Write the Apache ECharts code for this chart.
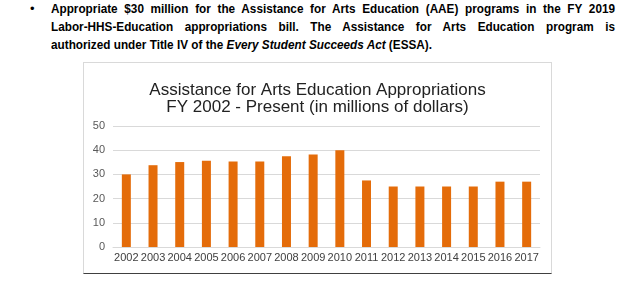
<!DOCTYPE html>
<html><head><meta charset="utf-8">
<script src="https://cdn.jsdelivr.net/npm/echarts@6/dist/echarts.min.js"></script>
<style>
html,body{margin:0;padding:0;background:#fff;width:640px;height:284px;overflow:hidden;}
#hdr{position:absolute;left:51px;top:0px;font-family:"Liberation Sans",Arial,sans-serif;font-weight:bold;font-size:13.5px;line-height:18px;color:#000;transform-origin:0 0;white-space:nowrap;}
#hdr div{white-space:nowrap;}
#hdr span.ln{display:inline-block;}
#bul{position:absolute;left:30px;top:0px;font-family:"Liberation Sans",sans-serif;font-size:13px;line-height:18px;}
#box{position:absolute;left:83px;top:62px;width:467px;height:210px;border:1px solid #d9d9d9;border-bottom:1px solid #404040;box-sizing:content-box;}
#chart{width:467px;height:210px;}
</style></head><body>
<div id="bul">•</div>
<div id="hdr">
<div><span class="ln" id="l1">Appropriate $30 million for the Assistance for Arts Education (AAE) programs in the FY 2019</span></div>
<div><span class="ln" id="l2">Labor-HHS-Education appropriations bill. The Assistance for Arts Education program is</span></div>
<div><span class="ln" id="l3">authorized under Title IV of the <i>Every Student Succeeds Act</i> (ESSA).</span></div>
</div>
<div id="box"><div id="chart"></div></div>
<script>
// header fitting: scale so line 3 spans ~381px, justify lines 1-2 to 564px
(function(){
  var l3 = document.getElementById('l3');
  var w3 = l3.getBoundingClientRect().width;
  var s = 381 / w3;
  var hdr = document.getElementById('hdr');
  hdr.style.transform = 'scaleX(' + s + ')';
  var target = 564 / s;
  ['l1','l2'].forEach(function(id){
    var el = document.getElementById(id);
    var w = el.getBoundingClientRect().width / 1; // unscaled? measure after transform
    w = w / s;
    var gaps = (el.textContent.match(/ /g) || []).length;
    if (gaps > 0) el.style.wordSpacing = ((target - w) / gaps) + 'px';
  });
})();

var categories = ["2002","2003","2004","2005","2006","2007","2008","2009","2010","2011","2012","2013","2014","2015","2016","2017"];
var appropriations = [30.0, 33.8, 35.1, 35.6, 35.3, 35.3, 37.5, 38.2, 40.0, 27.5, 25.0, 25.0, 25.0, 25.0, 27.0, 27.0];
var yTicks = [0, 10, 20, 30, 40, 50];
var titleText = "Assistance for Arts Education Appropriations\nFY 2002 - Present (in millions of dollars)";

var chart = echarts.init(document.getElementById('chart'), null, {renderer:'canvas'});
chart.setOption({
  animation:false,
  title:{text:titleText,left:'center',top:14,
    textStyle:{fontFamily:'Liberation Sans, Arial, sans-serif',fontWeight:'normal',fontSize:17,lineHeight:17,color:'#222'}},
  grid:{left:29,right:11,top:63,bottom:26},
  xAxis:{type:'category',data:categories,
    axisLine:{show:true,lineStyle:{color:'#d9d9d9'}},axisTick:{show:false},
    axisLabel:{interval:0,margin:5,fontSize:11,color:'#404040',fontFamily:'Liberation Sans, Arial, sans-serif'}},
  yAxis:{type:'value',min:yTicks[0],max:yTicks[yTicks.length-1],interval:10,
    axisLine:{show:false},axisTick:{show:false},
    splitLine:{lineStyle:{color:'#d9d9d9'}},
    axisLabel:{margin:8,fontSize:11,color:'#595959',fontFamily:'Liberation Sans, Arial, sans-serif'}},
  series:[{type:'bar',data:appropriations,barWidth:9,itemStyle:{color:'#E46C0A'}}]
});
</script>
</body></html>
